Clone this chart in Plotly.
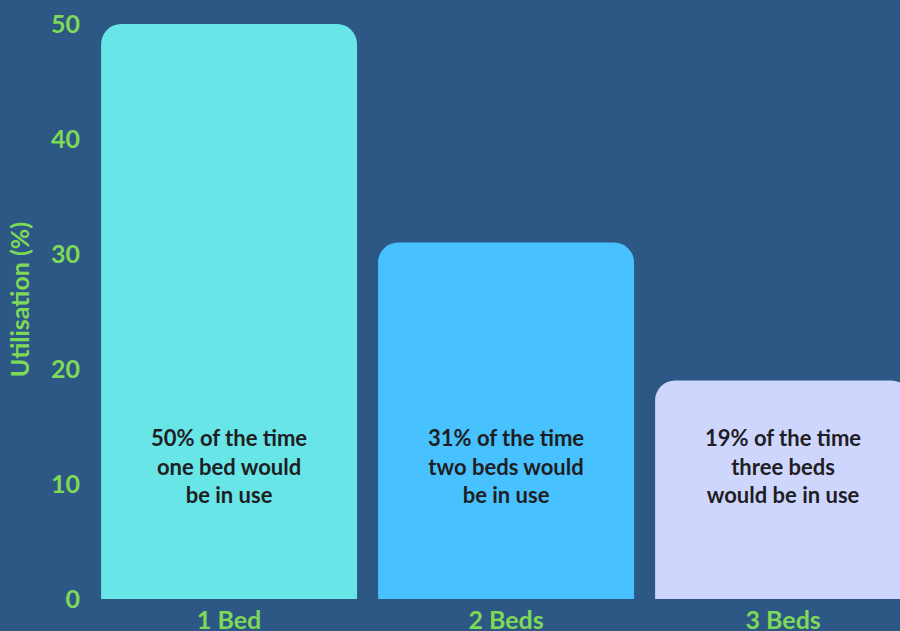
import plotly.graph_objects as go

categories = ["1 Bed", "2 Beds", "3 Beds"]
utilisation = [50, 31, 19]
bar_colors = ["#67E5E7", "#47C2FE", "#CFD6FE"]
bar_texts = [
    "50% of the time<br>one bed would<br>be in use",
    "31% of the time<br>two beds would<br>be in use",
    "19% of the time<br>three beds<br>would be in use",
]
text_y = 11.6
y_ticks = [0, 10, 20, 30, 40, 50]

green = "#7ED957"
bg = "#2D5886"

fig = go.Figure()
fig.add_trace(go.Bar(
    x=categories, y=utilisation,
    marker=dict(color=bar_colors, cornerradius=20, line=dict(width=0)),
    width=0.924,
    hoverinfo="skip",
))

for c, t in zip(categories, bar_texts):
    fig.add_annotation(x=c, y=text_y, text=t, showarrow=False,
                       font=dict(family="Lato", size=22, color="#1E1E24", weight="bold"),
                       align="center", xanchor="center", yanchor="middle")

fig.update_layout(
    width=900, height=631,
    paper_bgcolor=bg, plot_bgcolor=bg,
    margin=dict(l=95, r=0, t=0, b=32),
    showlegend=False,
    font=dict(family="Lato"),
    xaxis=dict(range=[-0.484, 2.422], showgrid=False, zeroline=False, showline=False,
               tickfont=dict(size=25, color=green, family="Lato", weight="bold"),
               ticks="", ticklabelstandoff=4, fixedrange=True, automargin=False),
    yaxis=dict(range=[0, 52.09], tickvals=y_ticks, showgrid=False, zeroline=False,
               showline=False, ticks="", ticklabelstandoff=14, fixedrange=True,
               automargin=False,
               tickfont=dict(size=25, color=green, family="Lato", weight="bold"),
               title=dict(text="Utilisation (%)", standoff=14,
                          font=dict(size=25, color=green, family="Lato", weight="bold"))),
)

fig.write_html("out.html",
               config={"displayModeBar": False},
               post_script="document.body.style.margin='0';document.body.style.padding='0';"
                           "document.body.style.background='" + bg + "';window.dispatchEvent(new Event('resize'));")
